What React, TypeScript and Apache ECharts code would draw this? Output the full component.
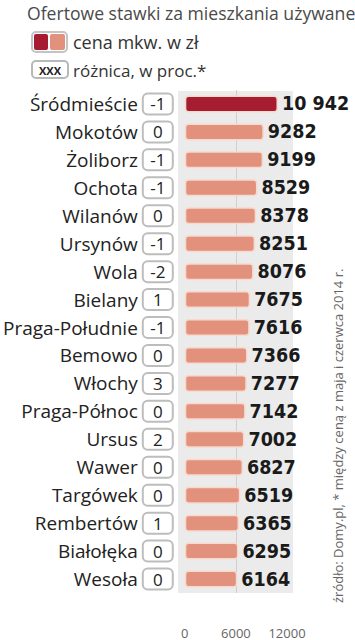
import React, { useEffect, useRef } from "react";
import * as echarts from "echarts";

const districts = ["Śródmieście", "Mokotów", "Żoliborz", "Ochota", "Wilanów", "Ursynów", "Wola", "Bielany", "Praga-Południe", "Bemowo", "Włochy", "Praga-Północ", "Ursus", "Wawer", "Targówek", "Rembertów", "Białołęka", "Wesoła"];
const prices = [10942, 9282, 9199, 8529, 8378, 8251, 8076, 7675, 7616, 7366, 7277, 7142, 7002, 6827, 6519, 6365, 6295, 6164];
const diffs = [-1, 0, -1, -1, 0, -1, -2, 1, -1, 0, 3, 0, 2, 0, 0, 1, 0, 0];
const xTicks = [0, 6000, 12000];

const titleText = "Ofertowe stawki za mieszkania używane";
const legendPrice = "cena mkw. w zł";
const legendDiff = "różnica, w proc.*";
const sourceText = "źródło: Domy.pl, * między ceną z maja i czerwca 2014 r.";

const DARK = "#a61c30";
const LIGHT = "#e1917c";
const SANS = "'Open Sans', 'Noto Sans', sans-serif";
const COND = "'DejaVu Sans Condensed', 'DejaVu Sans', sans-serif";

function fmt(v: number) {
  const s = String(v);
  return s.length > 4 ? s.slice(0, s.length - 3) + " " + s.slice(-3) : s;
}

export default function App() {
  const ref = useRef<HTMLDivElement>(null);
  useEffect(() => {
    if (!ref.current) return;
    const chart = echarts.init(ref.current, null, { renderer: "svg" });
    chart.setOption({
      animation: false,
      backgroundColor: "#ffffff",
      grid: { left: 180, right: 68, top: 90, bottom: 47, containLabel: false },
      xAxis: {
        type: "value",
        min: xTicks[0],
        max: xTicks[xTicks.length - 1],
        interval: 6000,
        axisLine: { show: false },
        axisTick: { show: false },
        axisLabel: { color: "#666", fontSize: 13, fontFamily: SANS, margin: 33, formatter: (v: number) => String(v) },
        splitLine: { show: true, lineStyle: { color: ["transparent", "#cfcfcf", "transparent"], width: 1 } },
      },
      yAxis: {
        type: "category",
        inverse: true,
        data: districts,
        axisLine: { show: false },
        axisTick: { show: false },
        axisLabel: {
          margin: 13,
          formatter: (name: string, idx: number) => `{n|${name}}{g|}{b|${diffs[idx]}}`,
          rich: {
            n: { fontSize: 19, color: "#222", fontFamily: SANS },
            g: { width: 6 },
            b: {
              width: 28,
              height: 19,
              align: "center",
              fontSize: 17,
              color: "#222",
              fontFamily: SANS,
              backgroundColor: "#fff",
              borderColor: "#bdbdbd",
              borderWidth: 2,
              borderRadius: 4,
            },
          },
        },
      },
      graphic: [
        { type: "rect", z: -10, shape: { x: 178, y: 91, width: 115, height: 502 }, style: { fill: "#ebebeb" } },
        { type: "text", x: 27, y: 13, style: { text: titleText, font: `17.6px ${SANS}`, fill: "#4a4a4a", textVerticalAlign: "middle" } },
        { type: "rect", shape: { x: 32, y: 32, width: 35, height: 20, r: 4 }, style: { fill: "#fff", stroke: "#c4c4c4", lineWidth: 2 } },
        { type: "rect", shape: { x: 34, y: 34, width: 14, height: 16, r: 2 }, style: { fill: DARK } },
        { type: "rect", shape: { x: 50, y: 34, width: 15, height: 16, r: 2 }, style: { fill: LIGHT } },
        { type: "text", x: 73, y: 42, style: { text: legendPrice, font: `18px ${SANS}`, fill: "#333", textVerticalAlign: "middle" } },
        { type: "rect", shape: { x: 32, y: 61, width: 36, height: 17, r: 4 }, style: { fill: "#fff", stroke: "#b8b8b8", lineWidth: 2 } },
        { type: "text", x: 50, y: 70, style: { text: "XXX", font: `bold 11px ${SANS}`, fill: "#222", textAlign: "center", textVerticalAlign: "middle" } },
        { type: "text", x: 73, y: 70, style: { text: legendDiff, font: `17px ${SANS}`, fill: "#333", textVerticalAlign: "middle" } },
        { type: "text", x: 338, y: 603, rotation: Math.PI / 2, style: { text: sourceText, font: `13px ${SANS}`, fill: "#666", textAlign: "left", textVerticalAlign: "middle" } },
      ],
      series: [
        {
          type: "bar",
          data: prices.map((v, i) => ({ value: v, itemStyle: { color: i === 0 ? DARK : LIGHT } })),
          barWidth: 17,
          itemStyle: { borderColor: "#f7d9cd", borderWidth: 1.5, borderRadius: 3 },
          label: {
            show: true,
            position: "right",
            distance: 4,
            formatter: (p: any) => fmt(p.value),
            fontFamily: COND,
            fontWeight: "bold",
            fontSize: 19.5,
            color: "#1a1a1a",
          },
        },
      ],
    });
    return () => chart.dispose();
  }, []);
  return <div ref={ref} style={{ position: "fixed", left: 0, top: 0, width: 355, height: 640 }} />;
}
